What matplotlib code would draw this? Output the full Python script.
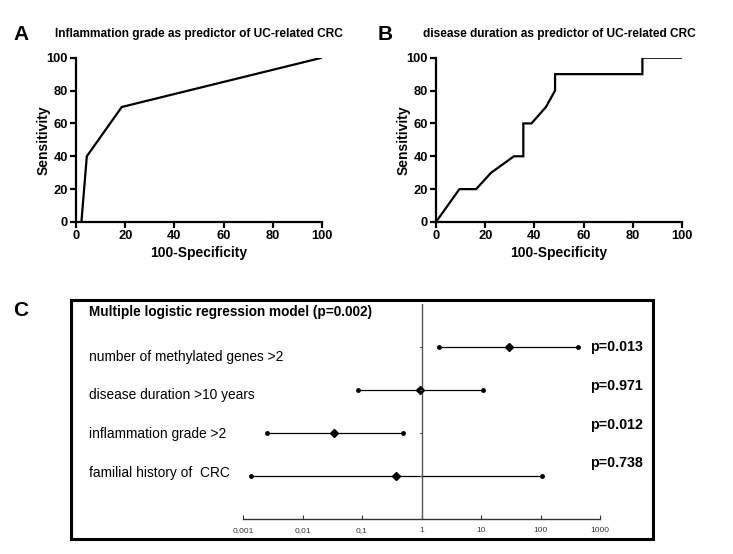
import matplotlib
matplotlib.use("Agg")
import matplotlib.pyplot as plt
from matplotlib.patches import Rectangle
import matplotlib.ticker as mticker

# ---- Data ----
roc_a_x = [2.2, 4.4, 18.6, 100]
roc_a_y = [0, 40, 70, 100]

roc_b_x = [0, 9.5, 16.3, 22.4, 31.7, 35.5, 35.5, 38.8, 44.7, 48.4, 48.4, 83.9, 83.9, 100]
roc_b_y = [0, 20, 20, 30, 40, 40, 60, 60, 70, 80, 90, 90, 100, 100]

predictors = ["number of methylated genes >2", "disease duration >10 years",
              "inflammation grade >2", "familial history of  CRC"]
odds_ratio = [29, 0.94, 0.034, 0.38]
ci_low = [1.97, 0.085, 0.0025, 0.00136]
ci_high = [430, 11, 0.48, 104]
p_values = ["p=0.013", "p=0.971", "p=0.012", "p=0.738"]
forest_ticks = [0.001, 0.01, 0.1, 1, 10, 100, 1000]
forest_tick_labels = ["0,001", "0,01", "0,1", "1", "10", "100", "1000"]

title_a = "Inflammation grade as predictor of UC-related CRC"
title_b = "disease duration as predictor of UC-related CRC"
model_title = "Multiple logistic regression model (p=0.002)"

plt.rcParams['font.family'] = ['Liberation Sans', 'DejaVu Sans']

W, H = 733, 554
fig = plt.figure(figsize=(W / 100, H / 100), dpi=100)


def fx(px):
    return px / W


def fy(py):
    return 1 - py / H


def roc_axes(left_px, xs, ys, title, letter, letter_px):
    ax = fig.add_axes([fx(left_px), fy(222), fx(246), (222 - 57.7) / H])
    ax.plot(xs, ys, color='black', lw=1.6, solid_joinstyle='miter')
    ax.set_xlim(0, 100)
    ax.set_ylim(0, 100)
    ax.set_xticks([0, 20, 40, 60, 80, 100])
    ax.set_yticks([0, 20, 40, 60, 80, 100])
    for s in ['top', 'right']:
        ax.spines[s].set_visible(False)
    for s in ['left', 'bottom']:
        ax.spines[s].set_linewidth(1.6)
    ax.tick_params(direction='out', length=4, width=1.6, labelsize=9.3, pad=2)
    for lab in ax.get_xticklabels() + ax.get_yticklabels():
        lab.set_fontweight('bold')
    ax.set_xlabel("100-Specificity", fontsize=10, fontweight='bold', labelpad=3)
    ax.set_ylabel("Sensitivity", fontsize=10, fontweight='bold')
    ax.yaxis.set_label_coords(-25 / 246, 0.5)
    ax.set_title(title, fontsize=8.6, fontweight='bold', pad=15)
    fig.text(fx(letter_px), fy(34), letter, fontsize=15, fontweight='bold',
             ha='left', va='center')
    return ax


roc_axes(76, roc_a_x, roc_a_y, title_a, "A", 13)
roc_axes(436, roc_b_x, roc_b_y, title_b, "B", 378)

# ---- Panel C ----
fig.text(fx(13), fy(311), "C", fontsize=15, fontweight='bold', ha='left', va='center')
fig.patches.append(Rectangle((fx(71), fy(539)), fx(653 - 71), (539 - 300) / H,
                             transform=fig.transFigure, fill=False,
                             edgecolor='black', lw=2.2))

axc = fig.add_axes([fx(243), fy(519), fx(357), (519 - 304) / H])
axc.set_xscale('log')
axc.set_xlim(0.001, 1000)
axc.set_ylim(0, 5)
axc.patch.set_alpha(0)
for s in ['top', 'right', 'left']:
    axc.spines[s].set_visible(False)
axc.spines['bottom'].set_linewidth(1.0)
axc.spines['bottom'].set_color('#333333')
axc.set_yticks([])
axc.xaxis.set_major_locator(mticker.FixedLocator(forest_ticks))
axc.xaxis.set_minor_locator(mticker.NullLocator())
axc.set_xticklabels(forest_tick_labels)
axc.tick_params(axis='x', direction='in', length=3, width=0.8, labelsize=6,
                pad=6, colors='#333333')
axc.axvline(1, color='#555555', lw=1.0)

ys = [4, 3, 2, 1]
for i, y in enumerate(ys):
    axc.plot([ci_low[i], ci_high[i]], [y, y], color='black', lw=0.9,
             marker='o', markersize=2.5)
    axc.plot([odds_ratio[i]], [y], marker='D', color='black', markersize=4.5)
    axc.plot([1 * 0.93, 1], [y, y], color='#555555', lw=0.8)

p_y_px = [347, 386, 425, 463]
for t, py in zip(p_values, p_y_px):
    fig.text(fx(590), fy(py), t, fontsize=10.3, fontweight='bold',
             ha='left', va='center')

fig.text(fx(89), fy(312), model_title, fontsize=9.8, fontweight='bold',
         ha='left', va='center')
label_y_px = [357, 395, 434, 473]
for t, py in zip(predictors, label_y_px):
    fig.text(fx(89), fy(py), t, fontsize=9.9, ha='left', va='center')

fig.savefig("out.png", dpi=100)
